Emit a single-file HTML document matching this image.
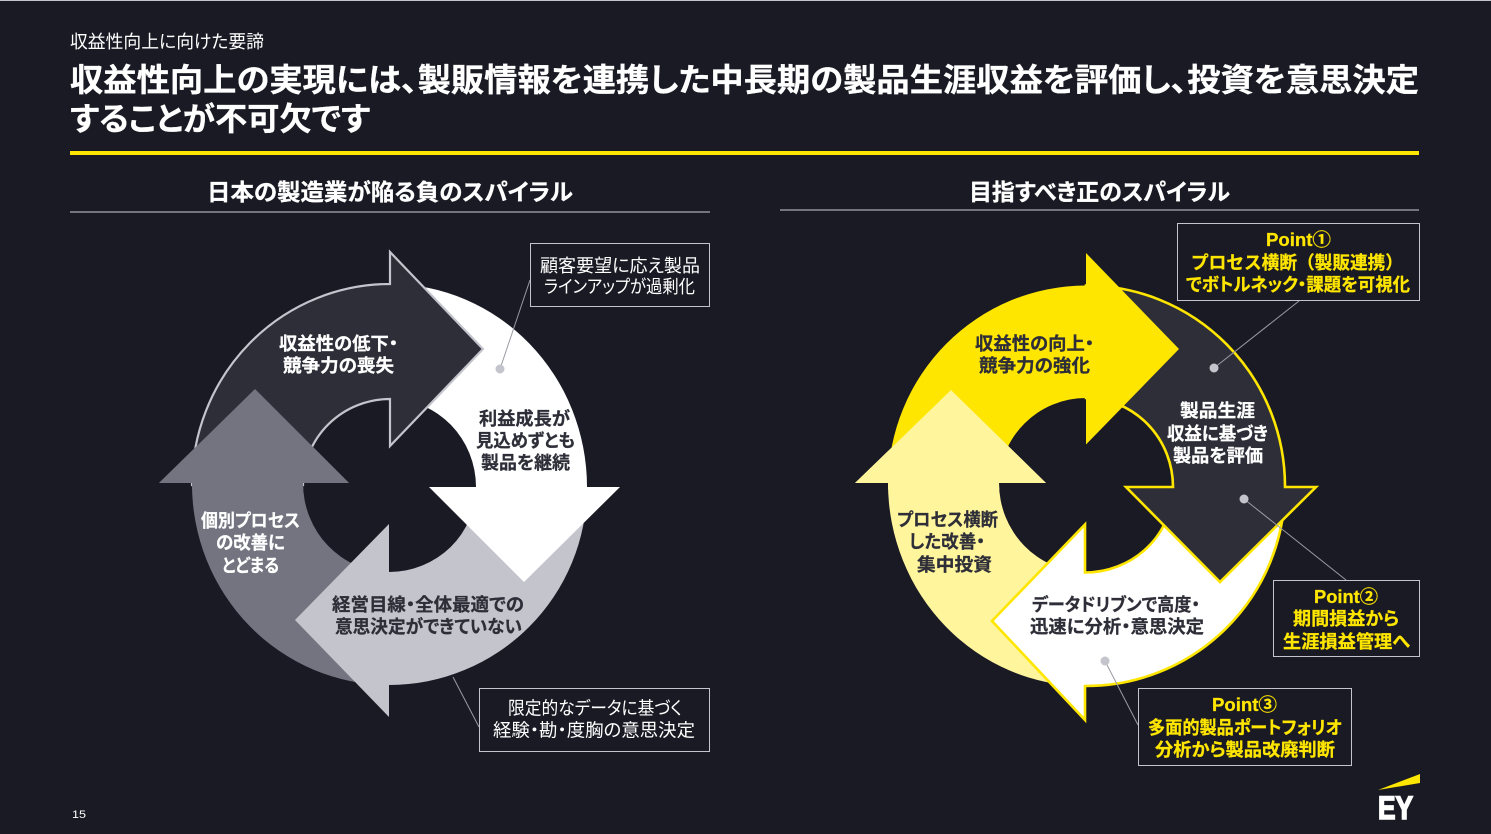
<!DOCTYPE html>
<html lang="ja"><head><meta charset="utf-8"><title>収益性向上に向けた要諦</title>
<style>
html,body{margin:0;padding:0;background:#1a1a24;width:1491px;height:834px;overflow:hidden}
svg{display:block}
text{font-family:"Liberation Sans","Noto Sans CJK JP",sans-serif;font-feature-settings:"palt"}
.b{font-weight:700;font-size:18px;stroke-width:.25px}
.r{font-weight:400;font-size:18px;fill:#fff}
.w{fill:#fff;stroke:#fff}.d{fill:#2e2e38;stroke:#2e2e38}.y{fill:#ffe600;stroke:#ffe600}
.r.w{stroke:none}
.t{stroke-width:.3px}
.np{font-feature-settings:normal}
</style></head><body>
<svg width="1491" height="834" viewBox="0 0 1491 834" xmlns="http://www.w3.org/2000/svg">
<defs>
<clipPath id="c1"><rect x="100" y="300" width="300" height="190"/></clipPath>
<clipPath id="c2"><rect x="800" y="300" width="290" height="190"/></clipPath>
</defs>
<rect width="1491" height="834" fill="#1a1a24"/>
<rect width="1491" height="1" fill="#c4c4cd"/>

<text x="70" y="48" class="r" textLength="194" lengthAdjust="spacingAndGlyphs">収益性向上に向けた要諦</text>
<text x="70" y="91" class="w t" font-weight="700" font-size="32" textLength="1349" lengthAdjust="spacingAndGlyphs">収益性向上の実現には、製販情報を連携した中長期の製品生涯収益を評価し、投資を意思決定</text>
<text x="70" y="130" class="w t" font-weight="700" font-size="32" textLength="300" lengthAdjust="spacingAndGlyphs">することが不可欠です</text>
<rect x="70" y="151" width="1349" height="4" fill="#ffe600"/>

<text x="207" y="200" class="w t" font-weight="700" font-size="23" textLength="366" lengthAdjust="spacingAndGlyphs">日本の製造業が陥る負のスパイラル</text>
<rect x="70" y="211" width="640" height="2" fill="#747480"/>
<text x="969" y="200" class="w t" font-weight="700" font-size="23" textLength="261" lengthAdjust="spacingAndGlyphs">目指すべき正のスパイラル</text>
<rect x="780" y="209" width="639" height="2" fill="#747480"/>

<!-- LEFT SPIRAL -->
<path fill="#747480" d="M389 685 A197 201 0 0 1 192 483 L159 483 L255 389 L349 483 L303 483 A86 89 0 0 0 389 572 Z"/>
<path fill="#c4c4cd" d="M587 487 A198 198 0 0 1 389 685 L389 717 L295 620 L389 524 L389 572 A87 85 0 0 0 476 487 Z"/>
<path fill="#ffffff" d="M390 284 A197 203 0 0 1 587 487 L620 487 L524 582 L429 487 L476 487 A86 88 0 0 0 390 399 Z"/>
<path fill="#2e2e38" stroke="#c4c4cd" stroke-width="2.2" d="M192 485 A198 201 0 0 1 390 284 L390 252 L483 349 L390 446 L390 399 A87 86 0 0 0 303 485 Z"/>
<path clip-path="url(#c1)" fill="#747480" d="M389 685 A197 201 0 0 1 192 483 L159 483 L255 389 L349 483 L303 483 A86 89 0 0 0 389 572 Z"/>

<text x="279" y="350" class="b w" textLength="119" lengthAdjust="spacingAndGlyphs">収益性の低下・</text>
<text x="283" y="372" class="b w" textLength="111" lengthAdjust="spacingAndGlyphs">競争力の喪失</text>
<text x="479" y="425" class="b d" textLength="91" lengthAdjust="spacingAndGlyphs">利益成長が</text>
<text x="476" y="447" class="b d" textLength="99" lengthAdjust="spacingAndGlyphs">見込めずとも</text>
<text x="481" y="469" class="b d" textLength="89" lengthAdjust="spacingAndGlyphs">製品を継続</text>
<text x="201" y="527" class="b w" textLength="99" lengthAdjust="spacingAndGlyphs">個別プロセス</text>
<text x="216" y="549" class="b w" textLength="69" lengthAdjust="spacingAndGlyphs">の改善に</text>
<text x="222" y="572" class="b w" textLength="57" lengthAdjust="spacingAndGlyphs">とどまる</text>
<text x="332" y="611" class="b d" textLength="192" lengthAdjust="spacingAndGlyphs">経営目線・全体最適での</text>
<text x="335" y="633" class="b d" textLength="187" lengthAdjust="spacingAndGlyphs">意思決定ができていない</text>

<line x1="530" y1="280" x2="500" y2="369" stroke="#9a9aa4" stroke-width="1"/>
<circle cx="500" cy="369" r="4.5" fill="#c4c4cd"/>
<rect x="530.5" y="243.5" width="179" height="63" fill="#1a1a24" stroke="#c4c4cd" stroke-width="1"/>
<text x="540" y="272" class="r" textLength="160" lengthAdjust="spacingAndGlyphs">顧客要望に応え製品</text>
<text x="544" y="293" class="r" textLength="151" lengthAdjust="spacingAndGlyphs">ラインアップが過剰化</text>

<line x1="453" y1="677" x2="479" y2="727" stroke="#9a9aa4" stroke-width="1"/>
<rect x="479.5" y="688.5" width="230" height="63" fill="#1a1a24" stroke="#c4c4cd" stroke-width="1"/>
<text x="508" y="714.5" class="r" textLength="174" lengthAdjust="spacingAndGlyphs">限定的なデータに基づく</text>
<text x="493" y="736.5" class="r" textLength="202" lengthAdjust="spacingAndGlyphs">経験・勘・度胸の意思決定</text>

<!-- RIGHT SPIRAL -->
<path fill="#fff59c" d="M1085 686 A197 203 0 0 1 888 483 L855 483 L951 390 L1046 483 L999 483 A87 89 0 0 0 1085 572 Z"/>
<path fill="#ffffff" stroke="#ffe600" stroke-width="2.6" d="M1285 487 A199 199 0 0 1 1085 686 L1085 720 L992 621 L1085 524.5 L1085 572.5 A88 85 0 0 0 1173 487 Z"/>
<path fill="#2e2e38" stroke="#ffe600" stroke-width="2.6" d="M1086 285.5 A199 201 0 0 1 1285 487 L1316 487 L1220 582 L1126 487 L1173 487 A87 89 0 0 0 1086 398 Z"/>
<path fill="#ffe600" d="M888 485 A198 200 0 0 1 1086 285.5 L1086 253 L1179 349 L1086 444.5 L1086 398 A87 87 0 0 0 999 485 Z"/>
<path clip-path="url(#c2)" fill="#fff59c" d="M1085 686 A197 203 0 0 1 888 483 L855 483 L951 390 L1046 483 L999 483 A87 89 0 0 0 1085 572 Z"/>

<text x="975" y="350" class="b d" textLength="119" lengthAdjust="spacingAndGlyphs">収益性の向上・</text>
<text x="979" y="372" class="b d" textLength="111" lengthAdjust="spacingAndGlyphs">競争力の強化</text>
<text x="1180" y="417" class="b w" textLength="75" lengthAdjust="spacingAndGlyphs">製品生涯</text>
<text x="1167" y="440" class="b w" textLength="101" lengthAdjust="spacingAndGlyphs">収益に基づき</text>
<text x="1173" y="462" class="b w" textLength="90" lengthAdjust="spacingAndGlyphs">製品を評価</text>
<text x="897" y="526" class="b d" textLength="101" lengthAdjust="spacingAndGlyphs">プロセス横断</text>
<text x="909" y="548" class="b d" textLength="76" lengthAdjust="spacingAndGlyphs">した改善・</text>
<text x="917" y="571" class="b d" textLength="75" lengthAdjust="spacingAndGlyphs">集中投資</text>
<text x="1032" y="611" class="b d" textLength="168" lengthAdjust="spacingAndGlyphs">データドリブンで高度・</text>
<text x="1030" y="633" class="b d" textLength="174" lengthAdjust="spacingAndGlyphs">迅速に分析・意思決定</text>

<line x1="1214" y1="368" x2="1299" y2="301" stroke="#9a9aa4" stroke-width="1"/>
<circle cx="1214" cy="368" r="4.5" fill="#c4c4cd"/>
<rect x="1177.5" y="223.5" width="242" height="77" fill="#1a1a24" stroke="#c4c4cd" stroke-width="1"/>
<text x="1266" y="246" class="b y" textLength="65" lengthAdjust="spacingAndGlyphs">Point①</text>
<text x="1191" y="269" class="b y np" textLength="212" lengthAdjust="spacingAndGlyphs">プロセス横断（製販連携）</text>
<text x="1186" y="291" class="b y" textLength="224" lengthAdjust="spacingAndGlyphs">でボトルネック・課題を可視化</text>

<line x1="1244" y1="499" x2="1346" y2="580" stroke="#9a9aa4" stroke-width="1"/>
<circle cx="1244" cy="499" r="4.5" fill="#c4c4cd"/>
<rect x="1273.5" y="580.5" width="146" height="76" fill="#1a1a24" stroke="#c4c4cd" stroke-width="1"/>
<text x="1314" y="603" class="b y" textLength="64" lengthAdjust="spacingAndGlyphs">Point②</text>
<text x="1293" y="625" class="b y" textLength="106" lengthAdjust="spacingAndGlyphs">期間損益から</text>
<text x="1283" y="648" class="b y" textLength="127" lengthAdjust="spacingAndGlyphs">生涯損益管理へ</text>

<line x1="1105" y1="661" x2="1138" y2="725" stroke="#9a9aa4" stroke-width="1"/>
<circle cx="1105" cy="661" r="4.5" fill="#c4c4cd"/>
<rect x="1138.5" y="688.5" width="213" height="77" fill="#1a1a24" stroke="#c4c4cd" stroke-width="1"/>
<text x="1212" y="711" class="b y" textLength="65" lengthAdjust="spacingAndGlyphs">Point③</text>
<text x="1148" y="734" class="b y" textLength="194" lengthAdjust="spacingAndGlyphs">多面的製品ポートフォリオ</text>
<text x="1155" y="756" class="b y" textLength="180" lengthAdjust="spacingAndGlyphs">分析から製品改廃判断</text>

<text x="72" y="818" fill="#fff" font-size="11" textLength="14" lengthAdjust="spacingAndGlyphs">15</text>

<polygon points="1378,790 1420,774 1420,783" fill="#ffe600"/>
<text x="1378" y="819" fill="#fff" stroke="#fff" stroke-width="1.6" font-weight="700" font-size="32" textLength="35" lengthAdjust="spacingAndGlyphs">EY</text>
</svg>
</body></html>
